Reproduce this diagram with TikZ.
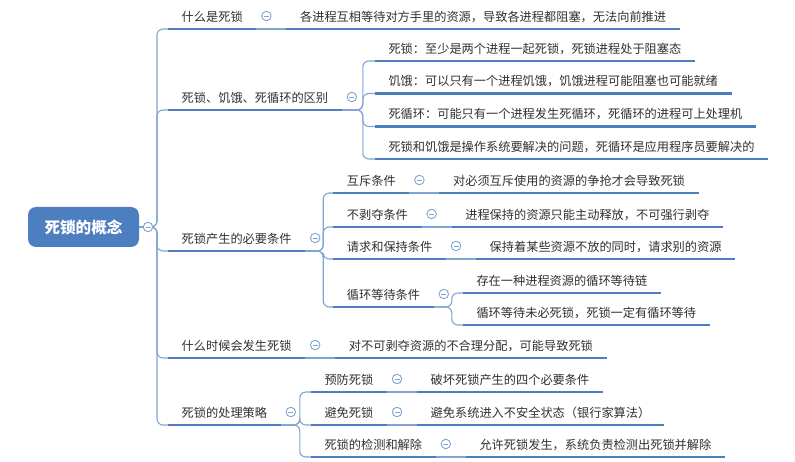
\documentclass[tikz,border=0pt]{standalone}
\usepackage{fontspec}
\newfontfamily\cjk{Noto Sans CJK SC}
\usetikzlibrary{positioning}

\definecolor{mapblue}{RGB}{76,126,192}
\definecolor{linkblue}{RGB}{128,164,212}
\definecolor{txtgray}{RGB}{48,48,48}

\tikzset{
  topic/.style={anchor=south west, inner xsep=13.5pt, inner ysep=5pt,
    text height=9.5pt, text depth=2.5pt, text=txtgray,
    font=\cjk\fontsize{12.2}{14}\selectfont},
  uline/.style={mapblue, line width=2.6pt},
  link/.style={linkblue, line width=1.1pt, rounded corners=6pt},
  fold/.style={circle, draw=linkblue, fill=white, line width=0.9pt,
    minimum size=9.5pt, inner sep=0pt,
    path picture={\draw[linkblue, line width=0.9pt]
      ([xshift=-2.5pt]path picture bounding box.center) --
      ([xshift=2.5pt]path picture bounding box.center);}},
}

\begin{document}
\begin{tikzpicture}[x=1pt,y=-1pt]
    \useasboundingbox (0,0) rectangle (795,462);
    % root
    \node[fill=mapblue, rounded corners=8pt, minimum width=111pt, minimum height=40pt,
      text=white, font=\cjk\bfseries\fontsize{15.6}{18}\selectfont] (root) at (83.5,227) {死锁的概念};
    % first level
    \node[topic] (what) at (168,29) {什么是死锁};
    \node[topic] (diff) at (168,110) {死锁、饥饿、死循环的区别};
    \node[topic] (cond) at (168,251) {死锁产生的必要条件};
    \node[topic] (when) at (168,358) {什么时候会发生死锁};
    \node[topic] (deal) at (168,425) {死锁的处理策略};
    % what is it
    \node[topic] (what1) at ([xshift=30pt]what.south east) {各进程互相等待对方手里的资源，导致各进程都阻塞，无法向前推进};
    % compare
    \node[topic] (diff1) at ([xshift=33pt,yshift=49pt]diff.south east) {死锁：至少是两个进程一起死锁，死锁进程处于阻塞态};
    \node[topic] (diff2) at ([xshift=33pt,yshift=16.5pt]diff.south east) {饥饿：可以只有一个进程饥饿，饥饿进程可能阻塞也可能就绪};
    \node[topic] (diff3) at ([xshift=33pt,yshift=-16.5pt]diff.south east) {死循环：可能只有一个进程发生死循环，死循环的进程可上处理机};
    \node[topic] (diff4) at ([xshift=33pt,yshift=-49pt]diff.south east) {死锁和饥饿是操作系统要解决的问题，死循环是应用程序员要解决的};
    % conditions
    \node[topic] (mutex) at ([xshift=28pt,yshift=58pt]cond.south east) {互斥条件};
    \node[topic] (nopre) at ([xshift=28pt,yshift=24pt]cond.south east) {不剥夺条件};
    \node[topic] (hold) at ([xshift=28pt,yshift=-8pt]cond.south east) {请求和保持条件};
    \node[topic] (cycle) at ([xshift=28pt,yshift=-56pt]cond.south east) {循环等待条件};
    \node[topic] (mutex1) at ([xshift=30pt]mutex.south east) {对必须互斥使用的资源的争抢才会导致死锁};
    \node[topic] (nopre1) at ([xshift=30pt]nopre.south east) {进程保持的资源只能主动释放，不可强行剥夺};
    \node[topic] (hold1) at ([xshift=30pt]hold.south east) {保持着某些资源不放的同时，请求别的资源};
    \node[topic] (cycle1) at ([xshift=29pt,yshift=14pt]cycle.south east) {存在一种进程资源的循环等待链};
    \node[topic] (cycle2) at ([xshift=29pt,yshift=-18pt]cycle.south east) {循环等待未必死锁，死锁一定有循环等待};
    % when
    \node[topic] (when1) at ([xshift=30pt]when.south east) {对不可剥夺资源的不合理分配，可能导致死锁};
    % strategies
    \node[topic] (prev) at ([xshift=30pt,yshift=33pt]deal.south east) {预防死锁};
    \node[topic] (avoid) at ([xshift=30pt]deal.south east) {避免死锁};
    \node[topic] (detect) at ([xshift=30pt,yshift=-32pt]deal.south east) {死锁的检测和解除};
    \node[topic] (prev1) at ([xshift=30pt]prev.south east) {破坏死锁产生的四个必要条件};
    \node[topic] (avoid1) at ([xshift=30pt]avoid.south east) {避免系统进入不安全状态（银行家算法）};
    \node[topic] (detect1) at ([xshift=30pt]detect.south east) {允许死锁发生，系统负责检测出死锁并解除};

    % connectors
    \foreach \c in {what,diff,cond,when,deal}
        \draw[link] (root.east) -- (157,227) |- (\c.south west);
    \foreach \p/\c in {what/what1,when/when1,mutex/mutex1,nopre/nopre1,hold/hold1,
        prev/prev1,avoid/avoid1,detect/detect1}
        \draw[link] (\p.south east) -- (\c.south west);
    \foreach \c in {diff1,diff2,diff3,diff4}
        \draw[link] (diff.south east) -- ++(21,0) |- (\c.south west);
    \foreach \c in {mutex,nopre,hold,cycle}
        \draw[link] (cond.south east) -- ++(18,0) |- (\c.south west);
    \foreach \c in {cycle1,cycle2}
        \draw[link] (cycle.south east) -- ++(18,0) |- (\c.south west);
    \foreach \c in {prev,avoid,detect}
        \draw[link] (deal.south east) -- ++(19,0) |- (\c.south west);

    % underlines
    \foreach \n in {what,diff,cond,when,deal,what1,diff1,diff2,diff3,diff4,
        mutex,nopre,hold,cycle,mutex1,nopre1,hold1,cycle1,cycle2,when1,
        prev,avoid,detect,prev1,avoid1,detect1}
        \draw[uline] (\n.south west) -- (\n.south east);

    % fold marks
    \node[fold] at (148,227) {};
    \foreach \n in {what,diff,cond,when,deal,mutex,nopre,hold,cycle,prev,avoid,detect}
        \node[fold] at ([xshift=10pt,yshift=13pt]\n.south east) {};
\end{tikzpicture}
\end{document}
